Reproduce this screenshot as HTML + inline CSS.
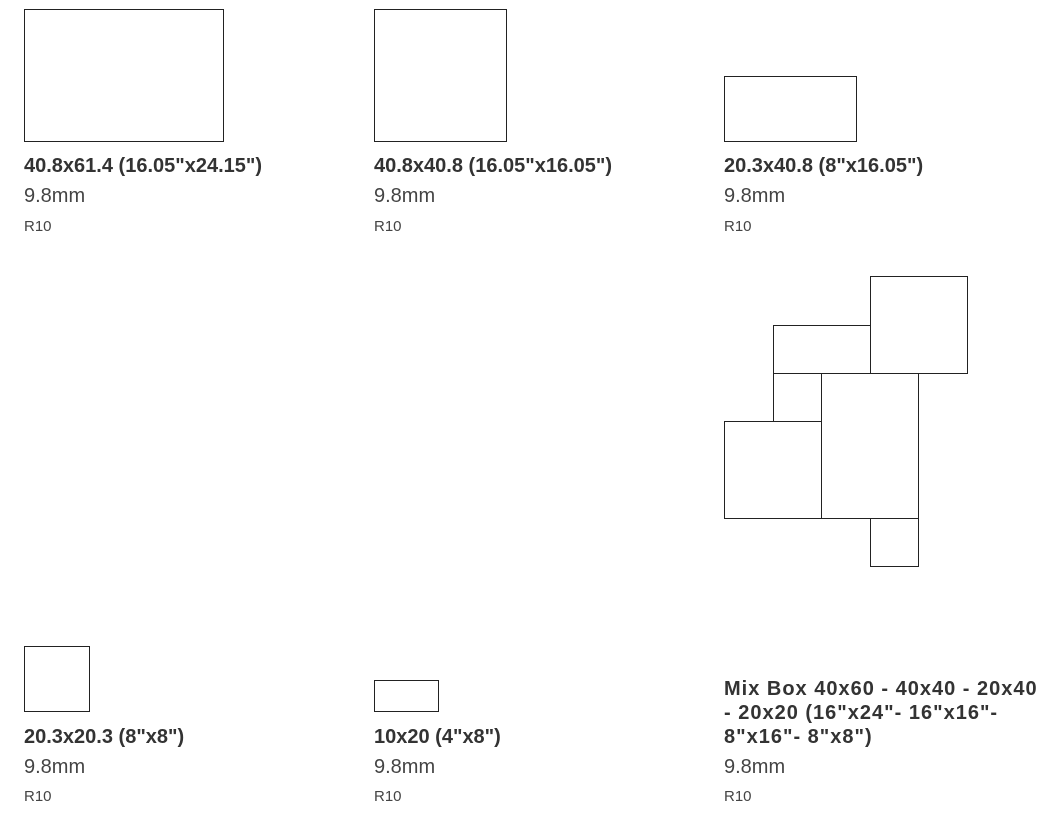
<!DOCTYPE html>
<html><head><style>
body{margin:0;width:1053px;height:823px;background:#fff;position:relative;overflow:hidden;font-family:"Liberation Sans",sans-serif;color:#333}
.b{position:absolute;border:1px solid #222;box-sizing:border-box;background:#fff}
.t{position:absolute;font-weight:bold;font-size:20px;line-height:24px;white-space:nowrap}
.m{position:absolute;font-size:20px;color:#444;line-height:24px}
.r{position:absolute;font-size:15px;color:#444;line-height:20px}
</style></head><body>
<div class="b" style="left:24px;top:9px;width:200px;height:133px"></div>
<div class="b" style="left:374px;top:9px;width:133px;height:133px"></div>
<div class="b" style="left:724px;top:76px;width:133px;height:66px"></div>
<div class="t" style="left:24px;top:154px">40.8x61.4 (16.05"x24.15")</div>
<div class="m" style="left:24px;top:184px">9.8mm</div>
<div class="r" style="left:24px;top:217px">R10</div>
<div class="t" style="left:374px;top:154px">40.8x40.8 (16.05"x16.05")</div>
<div class="m" style="left:374px;top:184px">9.8mm</div>
<div class="r" style="left:374px;top:217px">R10</div>
<div class="t" style="left:724px;top:154px">20.3x40.8 (8"x16.05")</div>
<div class="m" style="left:724px;top:184px">9.8mm</div>
<div class="r" style="left:724px;top:217px">R10</div>

<div class="b" style="left:870px;top:276px;width:98px;height:98px"></div>
<div class="b" style="left:773px;top:325px;width:98px;height:49px"></div>
<div class="b" style="left:773px;top:373px;width:49px;height:49px"></div>
<div class="b" style="left:724px;top:421px;width:98px;height:98px"></div>
<div class="b" style="left:821px;top:373px;width:98px;height:146px"></div>
<div class="b" style="left:870px;top:518px;width:49px;height:49px"></div>

<div class="b" style="left:24px;top:646px;width:66px;height:66px"></div>
<div class="b" style="left:374px;top:680px;width:65px;height:32px"></div>
<div class="t" style="left:24px;top:725px">20.3x20.3 (8"x8")</div>
<div class="m" style="left:24px;top:755px">9.8mm</div>
<div class="r" style="left:24px;top:787px">R10</div>
<div class="t" style="left:374px;top:725px">10x20 (4"x8")</div>
<div class="m" style="left:374px;top:755px">9.8mm</div>
<div class="r" style="left:374px;top:787px">R10</div>
<div class="t" style="left:724px;top:677px;letter-spacing:1px">Mix Box 40x60 - 40x40 - 20x40<br>- 20x20 (16"x24"- 16"x16"-<br>8"x16"- 8"x8")</div>
<div class="m" style="left:724px;top:755px">9.8mm</div>
<div class="r" style="left:724px;top:787px">R10</div>
</body></html>
